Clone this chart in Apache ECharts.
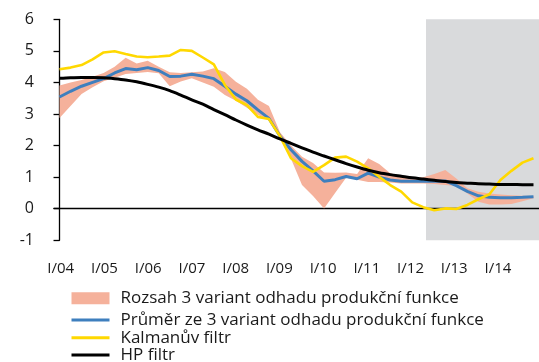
<!DOCTYPE html>
<html>
<head>
<meta charset="utf-8">
<script src="https://cdn.jsdelivr.net/npm/echarts@6/dist/echarts.min.js"></script>
<style>
  html, body { margin: 0; padding: 0; background: #ffffff; }
  #chart { width: 539px; height: 362px; }
</style>
</head>
<body>
<div id="chart"></div>
<script>
// Quarterly output gap estimates, I/2004 – IV/2014 (% of potential output)
const tickLabels = ['I/04', 'I/05', 'I/06', 'I/07', 'I/08', 'I/09', 'I/10', 'I/11', 'I/12', 'I/13', 'I/14'];

// Range of the three production-function variants (lower / upper bound)
const rangeLow = [
  2.87, 3.25, 3.63, 3.85, 4.04, 4.15, 4.27, 4.30, 4.33, 4.29,
  3.88, 4.03, 4.13, 4.00, 3.86, 3.60, 3.42, 3.20, 2.97, 2.80,
  2.25, 1.58, 0.75, 0.40, 0.01, 0.50, 0.98, 0.92, 0.85, 0.85,
  0.83, 0.80, 0.80, 0.80, 0.78, 0.75, 0.72, 0.48, 0.22, 0.13,
  0.13, 0.15, 0.24, 0.33
];
const rangeHigh = [
  3.90, 4.00, 4.08, 4.18, 4.30, 4.50, 4.78, 4.60, 4.69, 4.50,
  4.32, 4.30, 4.32, 4.35, 4.45, 4.33, 4.02, 3.80, 3.45, 3.25,
  2.42, 2.00, 1.65, 1.45, 1.15, 1.14, 1.15, 1.10, 1.60, 1.42,
  1.12, 1.03, 1.00, 1.00, 1.10, 1.23, 0.96, 0.65, 0.54, 0.48,
  0.45, 0.43, 0.41, 0.40
];
// Mean of the three production-function variants
const meanPF = [
  3.54, 3.72, 3.88, 4.00, 4.12, 4.30, 4.44, 4.40, 4.47, 4.38,
  4.19, 4.20, 4.26, 4.20, 4.12, 3.88, 3.63, 3.42, 3.13, 2.86,
  2.30, 1.87, 1.50, 1.20, 0.87, 0.92, 1.02, 0.95, 1.13, 1.00,
  0.91, 0.87, 0.87, 0.87, 0.87, 0.88, 0.73, 0.55, 0.41, 0.36,
  0.35, 0.35, 0.36, 0.38
];
// Kalman filter
const kalman = [
  4.42, 4.47, 4.55, 4.73, 4.95, 4.99, 4.90, 4.82, 4.80, 4.82,
  4.85, 5.03, 5.00, 4.79, 4.57, 3.92, 3.46, 3.28, 2.91, 2.84,
  2.30, 1.60, 1.35, 1.17, 1.38, 1.62, 1.65, 1.49, 1.28, 1.01,
  0.75, 0.54, 0.20, 0.05, -0.05, 0.01, -0.01, 0.12, 0.30, 0.46,
  0.91, 1.20, 1.46, 1.60
];
// HP filter
const hpFilter = [
  4.13, 4.15, 4.16, 4.16, 4.15, 4.12, 4.08, 4.02, 3.94, 3.85,
  3.74, 3.60, 3.45, 3.31, 3.14, 2.98, 2.81, 2.65, 2.50, 2.36,
  2.21, 2.07, 1.93, 1.79, 1.67, 1.55, 1.43, 1.32, 1.22, 1.14,
  1.08, 1.03, 0.98, 0.94, 0.90, 0.86, 0.83, 0.81, 0.79, 0.78,
  0.77, 0.77, 0.76, 0.76
];
// Start of the shaded forecast period (quarter index)
const forecastFrom = 33.25;

const names = [
  'Rozsah 3 variant odhadu produkční funkce',
  'Průměr ze 3 variant odhadu produkční funkce',
  'Kalmanův filtr',
  'HP filtr'
];
const colors = {
  range: '#F5B19B',
  mean: '#3E7FBE',
  kalman: '#FFD800',
  hp: '#000000',
  shade: '#D9DADC',
  text: '#1a1a1a'
};
const FONT = '"Open Sans", sans-serif';

const toPairs = arr => arr.map((v, i) => [i, v]);
const lastIndex = kalman.length - 1;

function legendRow(name, color, iconH, centerY) {
  return {
    data: [{ name: name, icon: 'rect', itemStyle: { color: color, borderWidth: 0 } }],
    left: 71.5,
    top: centerY - 8.5,
    orient: 'vertical',
    itemWidth: 38,
    itemHeight: iconH,
    padding: 0,
    selectedMode: false,
    textStyle: { fontFamily: FONT, fontSize: 17, color: colors.text, lineHeight: 17, padding: [0, 0, 0, 6] }
  };
}

const chart = echarts.init(document.getElementById('chart'), null, { renderer: 'canvas' });

chart.setOption({
  animation: false,
  backgroundColor: '#ffffff',
  grid: [
    { left: 54, top: 19.3, width: 488, height: 221, containLabel: false },
    { left: 60.7, top: 19.3, width: 437.3, height: 221, containLabel: false }
  ],
  legend: [
    legendRow(names[0], colors.range, 12, 298.3),
    legendRow(names[1], colors.mean, 3, 320),
    legendRow(names[2], colors.kalman, 3, 337.7),
    legendRow(names[3], colors.hp, 3, 355)
  ],
  xAxis: [
    {
      type: 'value', gridIndex: 0, min: -0.5, max: lastIndex + 0.5, z: 1,
      axisLine: { show: true, onZero: true, lineStyle: { color: '#000', width: 1.4 } },
      axisTick: { show: false }, axisLabel: { show: false }, splitLine: { show: false }
    },
    {
      type: 'category', gridIndex: 1, data: tickLabels, boundaryGap: false,
      axisLine: { show: false, onZero: false }, axisTick: { show: false }, splitLine: { show: false },
      axisLabel: { interval: 0, margin: 21, fontFamily: FONT, fontSize: 15, color: colors.text }
    }
  ],
  yAxis: [
    {
      type: 'value', gridIndex: 0, min: -1, max: 6, interval: 1, z: 1,
      axisLine: { show: true, lineStyle: { color: '#000', width: 1.3 } },
      axisTick: { show: true, inside: false, length: 6, lineStyle: { color: '#000', width: 1.3 } },
      axisLabel: { margin: 20, fontFamily: FONT, fontSize: 16, color: colors.text },
      splitLine: { show: false }
    },
    { type: 'value', gridIndex: 1, min: -1, max: 6, show: false }
  ],
  series: [
    {
      // carrier for the shaded forecast area
      type: 'line', xAxisIndex: 0, yAxisIndex: 0, data: [], z: 0, silent: true,
      markArea: {
        silent: true,
        itemStyle: { color: colors.shade, opacity: 1 },
        data: [[{ xAxis: forecastFrom, yAxis: -1 }, { xAxis: lastIndex + 0.5, yAxis: 6 }]]
      }
    },
    {
      // band between the lowest and highest production-function variant
      name: names[0],
      type: 'custom', xAxisIndex: 0, yAxisIndex: 0, z: 2, silent: true,
      itemStyle: { color: colors.range },
      data: [0],
      renderItem: function (params, api) {
        const pts = [];
        for (let i = 0; i < rangeHigh.length; i++) pts.push(api.coord([i, rangeHigh[i]]));
        for (let i = rangeLow.length - 1; i >= 0; i--) pts.push(api.coord([i, rangeLow[i]]));
        return { type: 'polygon', shape: { points: pts }, style: { fill: colors.range } };
      }
    },
    {
      name: names[1], type: 'line', xAxisIndex: 0, yAxisIndex: 0, z: 3,
      data: toPairs(meanPF), symbol: 'none',
      itemStyle: { color: colors.mean },
      lineStyle: { color: colors.mean, width: 3 }
    },
    {
      name: names[2], type: 'line', xAxisIndex: 0, yAxisIndex: 0, z: 4,
      data: toPairs(kalman), symbol: 'none',
      itemStyle: { color: colors.kalman },
      lineStyle: { color: colors.kalman, width: 2.6 }
    },
    {
      name: names[3], type: 'line', xAxisIndex: 0, yAxisIndex: 0, z: 5,
      data: toPairs(hpFilter), symbol: 'none', smooth: 0.3,
      itemStyle: { color: colors.hp },
      lineStyle: { color: colors.hp, width: 3 }
    }
  ]
});
</script>
</body>
</html>
